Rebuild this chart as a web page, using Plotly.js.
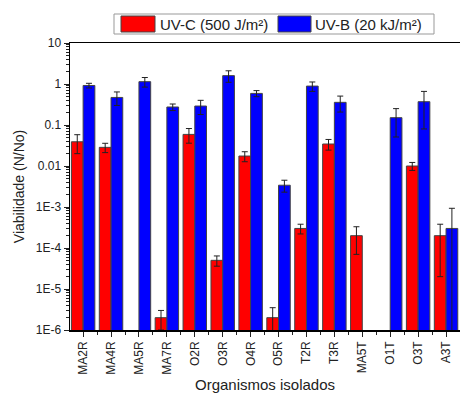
<!DOCTYPE html>
<html>
<head>
<meta charset="utf-8">
<script src="https://cdn.plot.ly/plotly-3.0.1.min.js"></script>
<style>html,body{margin:0;padding:0;background:#fff;}#chart{width:460px;height:394px;}</style>
</head>
<body>
<div id="chart"></div>
<script>
const categories = ["MA2R","MA4R","MA5R","MA7R","O2R","O3R","O4R","O5R","T2R","T3R","MA5T","O1T","O3T","A3T"];
const uvcValues = [0.039, 0.0285, null, 2e-6, 0.059, 5e-5, 0.0175, 2e-6, 3.0e-4, 0.0344, 2.0e-4, null, 0.010, 2.0e-4];
const uvcErrors = [0.019, 0.0073, null, 1e-6, 0.023, 1.4e-5, 0.0048, 1.5e-6, 8e-5, 0.010, 1.3e-4, null, 0.0022, 1.8e-4];
const uvbValues = [0.92, 0.47, 1.14, 0.275, 0.29, 1.6, 0.59, 0.0034, 0.89, 0.357, null, 0.151, 0.37, 3.0e-4];
const uvbErrors = [0.12, 0.17, 0.3, 0.05, 0.11, 0.5, 0.1, 0.0011, 0.23, 0.15, null, 0.1, 0.29, 6.3e-4];
const yTickVals = [10, 1, 0.1, 0.01, 1e-3, 1e-4, 1e-5, 1e-6];
const yTickText = ["10","1","0.1","0.01","1E-3","1E-4","1E-5","1E-6"];
const seriesNames = ["UV-C (500 J/m²)", "UV-B (20 kJ/m²)"];

const idx = categories.map((_, i) => i);
const font = "Liberation Sans, Arial, sans-serif";

const traces = [
  {
    type: "bar", name: seriesNames[0], x: idx, y: uvcValues,
    marker: {color: "#ff0000", line: {color: "#444", width: 1}},
    error_y: {type: "data", array: uvcErrors, visible: true, color: "#222", thickness: 1, width: 3}
  },
  {
    type: "bar", name: seriesNames[1], x: idx, y: uvbValues,
    marker: {color: "#0000ff", line: {color: "#444", width: 1}},
    error_y: {type: "data", array: uvbErrors, visible: true, color: "#222", thickness: 1, width: 3}
  }
];

const layout = {
  width: 460, height: 394,
  margin: {l: 70, r: 0, t: 43, b: 64},
  paper_bgcolor: "#fff", plot_bgcolor: "#fff",
  showlegend: false,
  barmode: "group", bargap: 0.16, bargroupgap: 0,
  font: {family: font, color: "#222", size: 12},
  xaxis: {
    range: [-0.47, 13.5],
    tickvals: idx, ticktext: categories, tickangle: -90,
    ticks: "outside", ticklen: 5, tickwidth: 1, tickcolor: "#222",
    minor: {ticks: "outside", ticklen: 3, tickwidth: 1, tickcolor: "#222", dtick: 1, tick0: 0.5},
    showline: true, linecolor: "#000", linewidth: 1.5, mirror: true,
    showgrid: false, zeroline: false,
    tickfont: {size: 12, family: font, color: "#222"},
    title: {text: "Organismos isolados", font: {size: 15, family: font, color: "#222"}, standoff: 6}
  },
  yaxis: {
    type: "log", range: [-6, 1],
    tickvals: yTickVals, ticktext: yTickText,
    ticks: "outside", ticklen: 5, tickwidth: 1, tickcolor: "#222",
    minor: {ticks: "outside", ticklen: 3, tickwidth: 1, tickcolor: "#222", dtick: "D1"},
    showline: true, linecolor: "#000", linewidth: 1.5,
    showgrid: false, zeroline: false,
    tickfont: {size: 12, family: font, color: "#222"},
    title: {text: "Viabilidade (N/No)", font: {size: 14, family: font, color: "#222"}, standoff: 8}
  },
  shapes: [
    {type: "rect", xref: "paper", yref: "paper", x0: (114-70)/390, x1: (434-70)/390, y0: (330-34)/287, y1: (330-14)/287,
     line: {color: "#999", width: 1}, fillcolor: "#fff"},
    {type: "rect", xref: "paper", yref: "paper", x0: (121-70)/390, x1: (155-70)/390, y0: (330-32)/287, y1: (330-16)/287,
     line: {color: "#444", width: 1}, fillcolor: "#ff0000"},
    {type: "rect", xref: "paper", yref: "paper", x0: (278-70)/390, x1: (311-70)/390, y0: (330-32)/287, y1: (330-16)/287,
     line: {color: "#444", width: 1}, fillcolor: "#0000ff"}
  ],
  annotations: [
    {xref: "paper", yref: "paper", x: (158-70)/390, y: (330-24)/287, xanchor: "left", yanchor: "middle",
     text: seriesNames[0], showarrow: false, font: {size: 15, family: font, color: "#222"}},
    {xref: "paper", yref: "paper", x: (313-70)/390, y: (330-24)/287, xanchor: "left", yanchor: "middle",
     text: seriesNames[1], showarrow: false, font: {size: 15, family: font, color: "#222"}}
  ]
};

Plotly.newPlot("chart", traces, layout, {displayModeBar: false, staticPlot: true});
</script>
</body>
</html>
